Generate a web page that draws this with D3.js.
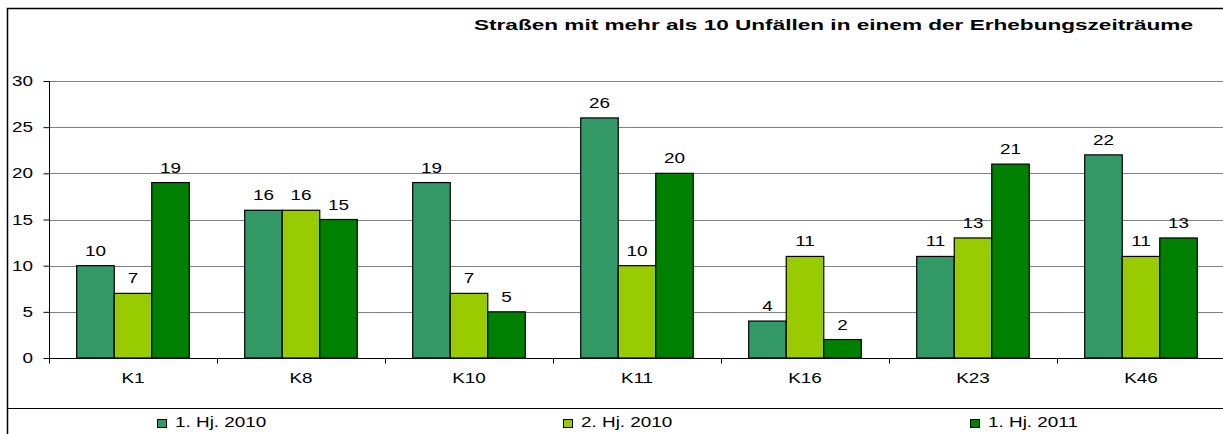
<!DOCTYPE html>
<html><head><meta charset="utf-8">
<script src="https://d3js.org/d3.v7.min.js"></script>
<style>body{margin:0;background:#fff;}svg{display:block;font-family:"Liberation Sans",Arial,sans-serif;}</style>
</head><body><svg id="c" width="1223" height="434"></svg>
<script>
const categories = ["K1","K8","K10","K11","K16","K23","K46"];
const seriesNames = ["1. Hj. 2010","2. Hj. 2010","1. Hj. 2011"];
const h1_2010 = [10,16,19,26,4,11,22];
const h2_2010 = [7,16,7,10,11,13,11];
const h1_2011 = [19,15,5,20,2,21,13];
const yTicks = [0,5,10,15,20,25,30];
const colors = ["#339966","#99CC00","#008000"];
const title = "Straßen mit mehr als 10 Unfällen in einem der Erhebungszeiträume";

const series = [h1_2010,h2_2010,h1_2011];
const SX = 1.26, FS = 15;
const svg = d3.select("#c");
function label(g,x,y,txt,anchor){
  return g.append("text").attr("transform",`translate(${x},${y}) scale(${SX},1)`)
    .attr("text-anchor",anchor||"middle").attr("font-size",FS).attr("fill","#000").text(txt);
}
// outer frame
svg.append("path").attr("d","M1223,8.5 H7.5 V434").attr("fill","none").attr("stroke","#000").attr("stroke-width",1.5);
svg.append("line").attr("x1",7).attr("x2",1223).attr("y1",408.5).attr("y2",408.5).attr("stroke","#000").attr("stroke-width",1.2);

svg.append("text").attr("x",474).attr("y",30).attr("textLength",719).attr("lengthAdjust","spacingAndGlyphs")
  .attr("font-weight","bold").attr("font-size",15.5).text(title);

const x0 = d3.scaleBand().domain(categories).range([49,1225]).paddingInner(0.33).paddingOuter(0.165);
const x1 = d3.scaleBand().domain(d3.range(3)).range([0,x0.bandwidth()]);
const y = d3.scaleLinear().domain([0,30]).range([358,81]);

// gridlines
svg.append("g").selectAll("line").data(yTicks.slice(1)).join("line")
  .attr("x1",49).attr("x2",1223).attr("y1",d=>Math.round(y(d))+0.5).attr("y2",d=>Math.round(y(d))+0.5)
  .attr("stroke","#808080").attr("stroke-width",1.2);

// y axis
const ya = svg.append("g").attr("transform","translate(49.5,0)")
  .call(d3.axisLeft(y).tickValues(yTicks).tickSize(6).tickFormat(""));
ya.select(".domain").attr("stroke","#000").attr("d","M0,81V358");
ya.selectAll(".tick line").attr("stroke","#000");
yTicks.forEach(t=>label(svg,33,y(t)+5,t,"end"));

// x axis
const xa = svg.append("g").attr("transform","translate(0,358.5)");
xa.append("line").attr("x1",49).attr("x2",1223).attr("stroke","#000");
xa.selectAll("line.t").data(categories).join("line").attr("class","t")
  .attr("x1",d=>x0(d)-x0.step()*x0.paddingInner()/2+0.5)
  .attr("x2",d=>x0(d)-x0.step()*x0.paddingInner()/2+0.5).attr("y1",0).attr("y2",5).attr("stroke","#000");
categories.forEach(c=>label(svg,x0(c)+x0.bandwidth()/2,383,c));

// bars
categories.forEach((c,i)=>{
  series.forEach((s,j)=>{
    const v=s[i];
    svg.append("rect").attr("x",x0(c)+x1(j)).attr("y",y(v)).attr("width",x1.bandwidth()).attr("height",y(0)-y(v))
      .attr("fill",colors[j]).attr("stroke","#000").attr("stroke-width",1.2);
    label(svg,x0(c)+x1(j)+x1.bandwidth()/2,y(v)-10,v);
  });
});

// legend
const legX=[157,563,970];
seriesNames.forEach((n,j)=>{
  svg.append("rect").attr("x",legX[j]+0.5).attr("y",419.5).attr("width",9).attr("height",8)
    .attr("fill",colors[j]).attr("stroke","#000").attr("stroke-width",1);
  label(svg,legX[j]+18,427,n,"start");
});
</script></body></html>
